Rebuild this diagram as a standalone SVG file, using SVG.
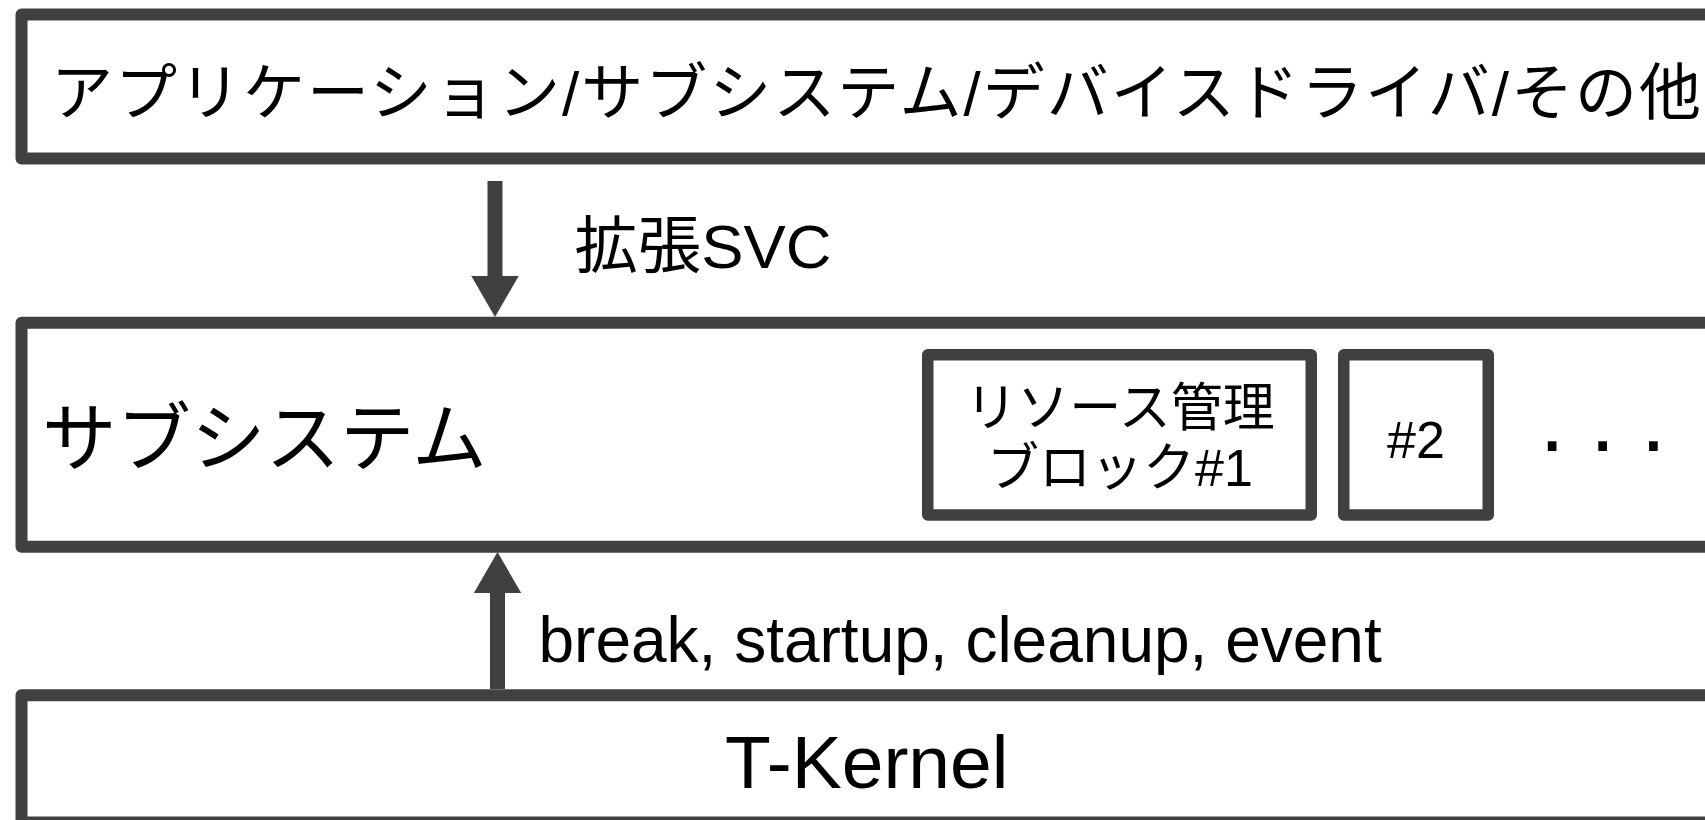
<svg xmlns="http://www.w3.org/2000/svg" width="1705" height="820" viewBox="0 0 1705 820">
  <style>
    .box { fill: #ffffff; stroke: #404040; stroke-width: 12; stroke-linejoin: round; }
    .sub { fill: #ffffff; stroke: #404040; stroke-width: 11.5; stroke-linejoin: round; }
    .t { font-family: "Liberation Sans", "Noto Sans CJK JP", sans-serif; fill: #000000; }
    .conn { stroke: #404040; stroke-width: 15; fill: none; }
  </style>
  <defs>
    <marker id="head" markerUnits="userSpaceOnUse" markerWidth="42" markerHeight="48" viewBox="0 0 42 48" refX="0" refY="24" orient="auto">
      <path d="M0,0.3 L41,24 L0,47.7 Z" fill="#404040"/>
    </marker>
  </defs>
  <rect width="1705" height="820" fill="#ffffff"/>

  <g id="apps">
    <rect class="box" x="21.5" y="14.5" width="1720" height="144"/>
    <text class="t" x="51" y="115" font-size="62" textLength="1650" lengthAdjust="spacing">アプリケーション/サブシステム/デバイスドライバ/その他</text>
  </g>

  <g id="subsystem">
    <rect class="box" x="21.5" y="322.8" width="1720" height="224"/>
    <text class="t" x="42" y="465" font-size="74.5">サブシステム</text>
  </g>

  <g id="resource-block-1">
    <rect class="sub" x="927.75" y="354.75" width="383.5" height="160.2"/>
    <text class="t" x="1120" y="426" font-size="52" text-anchor="middle">リソース管理</text>
    <text class="t" x="1120" y="486" font-size="52" text-anchor="middle">ブロック#1</text>
  </g>

  <g id="resource-block-2">
    <rect class="sub" x="1343.75" y="354.75" width="144.5" height="160.2"/>
    <text class="t" x="1416" y="458" font-size="52" text-anchor="middle">#2</text>
  </g>

  <g id="ellipsis">
    <text class="t" x="1539.5" y="451" font-size="91">. . .</text>
  </g>

  <g id="tkernel">
    <rect class="box" x="21.5" y="695.2" width="1720" height="127.2"/>
    <text class="t" x="725" y="788.3" font-size="75">T-Kernel</text>
  </g>

  <g id="connectors">
    <line class="conn" x1="495" y1="181" x2="495" y2="276" marker-end="url(#head)"/>
    <text class="t" x="574.5" y="267.5" font-size="62" textLength="257" lengthAdjust="spacingAndGlyphs">拡張SVC</text>
    <line class="conn" x1="497.5" y1="689" x2="497.5" y2="593" marker-end="url(#head)"/>
    <text class="t" x="538.5" y="662" font-size="64">break, startup, cleanup, event</text>
  </g>
</svg>
